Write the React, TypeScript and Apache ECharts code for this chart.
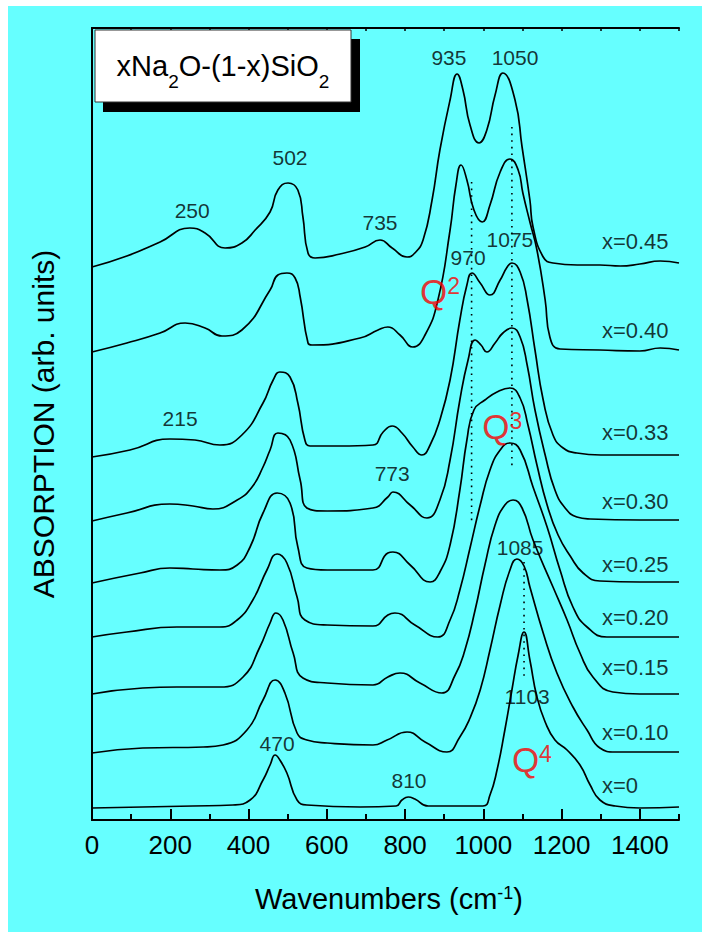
import React, { useEffect, useRef } from 'react';
import * as echarts from 'echarts';

const FONT = '"Liberation Sans", Arial, Helvetica, sans-serif';

// Composition of each spectrum (top to bottom) and its vertical offset (arb. units)
const compositions = ['x=0.45', 'x=0.40', 'x=0.33', 'x=0.30', 'x=0.25', 'x=0.20', 'x=0.15', 'x=0.10', 'x=0'];
const offsets = [555, 470, 364, 300, 238, 183, 126, 68, 13];

// Spectra: [wavenumber (cm-1), absorption (arb. units)]
const s045 = [[0,-2],[89,9],[174,23],[250,37],[289,32],[340,17],[383,22],[417,35],[455,53],[475,75],[501,82],[526,75],[539,48],[552,12],[570,7],[634,11],[698,18],[736,25],[767,17],[805,8],[825,12],[846,25],[869,65],[889,115],[915,165],[933,191],[948,175],[966,140],[989,122],[1009,135],[1030,170],[1050,192],[1081,165],[1099,118],[1119,65],[1127,38],[1153,8],[1178,2],[1240,0],[1298,0],[1350,-1],[1400,1],[1452,4],[1500,2]];
const s040 = [[0,-2],[89,7],[174,17],[238,27],[289,22],[332,14],[383,20],[455,60],[475,75],[498,77],[519,72],[532,53],[552,7],[562,5],[685,12],[731,20],[756,23],[787,15],[820,3],[851,15],[884,50],[915,120],[930,165],[943,185],[958,170],[976,140],[997,128],[1017,145],[1043,178],[1068,191],[1089,180],[1101,157],[1119,128],[1137,100],[1158,50],[1170,13],[1196,1],[1298,0],[1400,-1],[1452,2],[1500,0]];
const s033 = [[0,-1],[97,6],[199,17],[263,16],[327,11],[383,21],[437,53],[463,76],[480,84],[506,79],[526,53],[544,16],[557,10],[634,10],[718,11],[744,24],[767,30],[792,23],[820,9],[843,1],[864,11],[889,36],[915,76],[940,136],[958,171],[971,183],[992,173],[1017,161],[1043,176],[1061,189],[1073,193],[1094,184],[1112,156],[1132,106],[1153,56],[1178,21],[1204,8],[1239,3],[1300,1],[1400,1],[1500,1]];
const s030 = [[0,-1],[89,7],[199,16],[258,14],[309,11],[371,20],[409,33],[437,53],[455,70],[475,87],[506,80],[532,40],[549,12],[601,9],[718,12],[756,23],[769,28],[813,15],[856,2],[889,20],[915,60],[940,120],[961,160],[979,180],[994,175],[1009,168],[1030,177],[1050,187],[1073,192],[1094,183],[1112,155],[1132,110],[1158,65],[1183,30],[1209,12],[1239,3],[1273,1],[1400,0],[1500,0]];
const s025 = [[0,-1],[123,9],[199,14],[258,13],[327,12],[371,17],[404,35],[437,69],[473,89],[506,79],[526,35],[549,14],[601,12],[718,12],[756,29],[769,30],[813,17],[864,0],[889,10],[915,37],[940,92],[958,142],[976,172],[1004,182],[1035,190],[1068,194],[1094,184],[1114,157],[1137,117],[1163,77],[1191,47],[1222,26],[1255,9],[1298,1],[1400,0],[1500,0]];
const s020 = [[0,0],[89,5],[217,10],[327,10],[371,17],[411,37],[447,67],[473,83],[498,74],[524,40],[544,17],[601,12],[718,11],[756,22],[774,24],[825,12],[884,0],[915,17],[940,47],[966,89],[992,132],[1017,167],[1043,187],[1068,194],[1094,187],[1127,150],[1163,110],[1196,67],[1229,30],[1265,10],[1316,0],[1400,0],[1500,0]];
const s015 = [[0,0],[130,6],[217,7],[327,7],[386,17],[429,47],[455,71],[470,81],[488,74],[514,41],[539,16],[601,11],[718,9],[756,17],[787,21],[838,11],[894,1],[928,19],[953,44],[979,84],[1004,129],[1030,169],[1055,189],[1076,194],[1099,186],[1127,154],[1178,107],[1214,74],[1247,41],[1280,17],[1331,2],[1400,0],[1500,0]];
const s010 = [[0,-1],[130,4],[284,5],[335,7],[396,22],[437,52],[468,72],[493,59],[524,19],[549,12],[601,9],[718,7],[754,12],[805,20],[851,10],[907,0],[940,15],[966,34],[992,62],[1017,102],[1043,147],[1068,182],[1086,193],[1104,186],[1119,165],[1153,119],[1188,79],[1229,45],[1265,22],[1298,4],[1337,0],[1400,0],[1500,0]];
const s000 = [[0,-1],[258,1],[360,2],[404,7],[437,27],[455,42],[468,52],[480,47],[498,34],[524,7],[549,2],[685,0],[777,1],[792,7],[808,10],[825,8],[859,1],[999,1],[1017,12],[1035,37],[1055,77],[1073,117],[1089,152],[1104,175],[1119,147],[1137,110],[1158,85],[1183,67],[1214,57],[1247,42],[1273,22],[1298,7],[1337,1],[1400,-1],[1500,0]];
const spectra = [s045, s040, s033, s030, s025, s020, s015, s010, s000];

// Dotted guide lines: [wavenumber, from, to]
const guides = [[970, 638, 297], [1073, 693, 352], [1104, 258, 142]];

// Peak labels: [text, wavenumber, level]
const peakLabels: [string, number, number][] = [
  ['250', 256, 610], ['502', 506, 663], ['735', 736, 598], ['935', 912, 763], ['1050', 1081, 763],
  ['970', 961, 563], ['1075', 1068, 581], ['215', 225, 402], ['773', 767, 347], ['1085', 1094, 273],
  ['1103', 1112, 124], ['470', 473, 77], ['810', 810, 40],
];
// Composition label anchors: [wavenumber, level]
const compLabelPos = [[1303, 579], [1303, 490], [1303, 388], [1303, 319], [1303, 256], [1303, 203], [1303, 153], [1303, 88], [1303, 35]];
// Q species labels: [n, wavenumber, level]
const qLabels: [string, number, number][] = [['2', 838, 528], ['3', 997, 393], ['4', 1073, 60]];

const xTicks = [0, 200, 400, 600, 800, 1000, 1200, 1400];

export default function App() {
  const ref = useRef<HTMLDivElement>(null);
  useEffect(() => {
    const chart = echarts.init(ref.current!, null, { renderer: 'svg' });
    const black = '#000';
    const lineSeries: any[] = spectra.map((sp, i) => ({
      type: 'line',
      name: compositions[i],
      xAxisIndex: 0,
      yAxisIndex: 0,
      data: sp.map(([w, v]) => [w, v + offsets[i]]),
      showSymbol: false,
      symbol: 'none',
      smooth: 0.5,
      lineStyle: { color: black, width: 1.7 },
      silent: true,
      z: 3,
    }));
    const guideSeries: any[] = guides.map(([w, a, b]) => ({
      type: 'line',
      xAxisIndex: 0,
      yAxisIndex: 0,
      data: [[w, a], [w, b]],
      symbol: 'none',
      lineStyle: { color: black, width: 1.6, type: [1.6, 5] },
      silent: true,
      z: 2,
    }));
    const textData: any[] = [];
    peakLabels.forEach(([t, w, v]) => {
      textData.push({
        value: [w, v],
        label: { show: true, formatter: t, position: 'inside', align: 'center', verticalAlign: 'middle', fontSize: 21, fontFamily: FONT, color: black },
      });
    });
    compositions.forEach((c, i) => {
      textData.push({
        value: compLabelPos[i],
        label: { show: true, formatter: c, position: 'inside', align: 'left', verticalAlign: 'middle', fontSize: 22, fontFamily: FONT, color: black },
      });
    });
    qLabels.forEach(([n, w, v]) => {
      textData.push({
        value: [w, v],
        label: {
          show: true,
          formatter: `{q|Q}{s|${n}}`,
          position: 'inside',
          align: 'left',
          verticalAlign: 'middle',
          rich: {
            q: { fontSize: 35, lineHeight: 36, verticalAlign: 'top', color: '#ff0000', fontFamily: FONT },
            s: { fontSize: 23, lineHeight: 23, verticalAlign: 'top', color: '#ff0000', fontFamily: FONT },
          },
        },
      });
    });
    const textSeries = {
      type: 'scatter',
      xAxisIndex: 0,
      yAxisIndex: 0,
      symbol: 'circle',
      symbolSize: 1,
      itemStyle: { color: 'rgba(0,0,0,0)' },
      data: textData,
      silent: true,
      z: 5,
    };

    const axisLine = { show: true, lineStyle: { color: black, width: 2 } };
    chart.setOption({
      animation: false,
      backgroundColor: '#66ffff',
      grid: { left: 84, top: 22, right: 23, bottom: 112, containLabel: false },
      xAxis: [
        {
          type: 'value', min: 0, max: 1500, interval: 200, position: 'bottom',
          axisLine,
          axisTick: { show: true, inside: true, length: 11, lineStyle: { color: black, width: 2 } },
          axisLabel: {
            show: true, margin: 12, color: black, fontSize: 26, fontFamily: FONT, showMaxLabel: false,
            formatter: (v: number) => (xTicks.includes(v) ? String(v) : ''),
          },
          splitLine: { show: false },
        },
        {
          type: 'value', min: 0, max: 1500, interval: 100, position: 'bottom',
          axisLine: { show: false },
          axisTick: { show: true, inside: true, length: 6, lineStyle: { color: black, width: 2 } },
          axisLabel: { show: false },
          splitLine: { show: false },
        },
        {
          type: 'value', min: 0, max: 1500, interval: 100, position: 'top',
          axisLine,
          axisTick: { show: true, inside: true, length: 3, lineStyle: { color: black, width: 1.5 } },
          axisLabel: { show: false },
          splitLine: { show: false },
        },
      ],
      yAxis: [
        {
          type: 'value', min: 0, max: 792, position: 'left',
          axisLine, axisTick: { show: false }, axisLabel: { show: false }, splitLine: { show: false },
        },
        {
          type: 'value', min: 0, max: 792, position: 'right',
          axisLine, axisTick: { show: false }, axisLabel: { show: false }, splitLine: { show: false },
        },
      ],
      graphic: [
        { type: 'rect', shape: { x: 95, y: 33, width: 257, height: 73 }, style: { fill: '#000' }, z: 10 },
        { type: 'rect', shape: { x: 87, y: 24, width: 256, height: 72 }, style: { fill: '#fff', stroke: '#333', lineWidth: 1 }, z: 11 },
        {
          type: 'text', x: 215, y: 45, z: 12,
          style: {
            text: '{n|xNa}{b|2}{n|O-(1-x)SiO}{b|2}',
            textAlign: 'center', textVerticalAlign: 'top',
            rich: {
              n: { fontSize: 29, lineHeight: 30, verticalAlign: 'top', fill: black, fontFamily: FONT },
              b: { fontSize: 19, lineHeight: 19, verticalAlign: 'top', padding: [21, 0, 0, 0], fill: black, fontFamily: FONT },
            },
          },
        },
        {
          type: 'text', x: 381, y: 878, z: 12,
          style: {
            text: '{a|Wavenumbers (cm}{s|-1}{a|)}',
            textAlign: 'center', textVerticalAlign: 'top',
            rich: {
              a: { fontSize: 29, lineHeight: 34, verticalAlign: 'top', fill: black, fontFamily: FONT },
              s: { fontSize: 18, lineHeight: 18, verticalAlign: 'top', padding: [0, 0, 0, 0], fill: black, fontFamily: FONT },
            },
          },
        },
        {
          type: 'text', x: 35, y: 418, rotation: Math.PI / 2, z: 12,
          style: {
            text: 'ABSORPTION (arb. units)', textAlign: 'center', textVerticalAlign: 'middle',
            fontSize: 30, fontFamily: FONT, fill: black,
          },
        },
      ],
      series: [...lineSeries, ...guideSeries, textSeries],
    });
    return () => chart.dispose();
  }, []);
  return <div ref={ref} style={{ position: 'absolute', left: 8, top: 6, width: 694, height: 926 }} />;
}
